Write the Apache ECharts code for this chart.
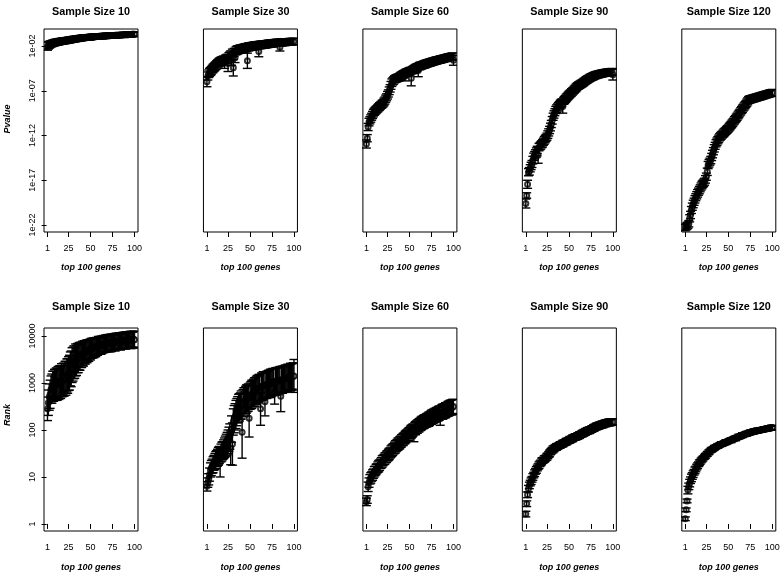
<!DOCTYPE html>
<html>
<head>
<meta charset="utf-8">
<script src="https://cdn.jsdelivr.net/npm/echarts@6/dist/echarts.min.js"></script>
<style>
html,body{margin:0;padding:0;background:#fff;}
#chart{width:784px;height:577px;}
</style>
</head>
<body>
<div id="chart"></div>
<script>
// ---- categories / labels ----
const sampleSizes = [10, 30, 60, 90, 120];
const xTickValues = [1, 25, 50, 75, 100];
const pTickExp = [-22, -17, -12, -7, -2];
const pTickLabels = ['1e-22', '1e-17', '1e-12', '1e-07', '1e-02'];
const rankTickExp = [0, 1, 2, 3, 4];
const rankTickLabels = ['1', '10', '100', '1000', '10000'];
const geneRank = Array.from({length: 100}, (_, i) => i + 1);

// ---- top row: log10(Pvalue), mean and error half-width (in decades) ----
const pLog_n10 = [-2.02,-1.95,-1.87,-1.81,-1.76,-1.73,-1.69,-1.66,-1.63,-1.6,
-1.59,-1.56,-1.55,-1.52,-1.5,-1.49,-1.47,-1.45,-1.44,-1.42,
-1.41,-1.39,-1.38,-1.36,-1.35,-1.33,-1.31,-1.3,-1.27,-1.25,
-1.24,-1.23,-1.21,-1.19,-1.18,-1.16,-1.15,-1.13,-1.12,-1.1,
-1.09,-1.08,-1.07,-1.06,-1.05,-1.04,-1.03,-1.02,-1.01,-1.0,
-0.99,-0.98,-0.98,-0.97,-0.96,-0.95,-0.94,-0.94,-0.93,-0.92,
-0.91,-0.91,-0.9,-0.89,-0.89,-0.88,-0.87,-0.87,-0.86,-0.86,
-0.85,-0.85,-0.84,-0.84,-0.83,-0.82,-0.82,-0.81,-0.8,-0.8,
-0.79,-0.79,-0.78,-0.78,-0.77,-0.76,-0.76,-0.75,-0.75,-0.74,
-0.74,-0.73,-0.73,-0.72,-0.71,-0.71,-0.7,-0.7,-0.69,-0.68];
const pErr_n10 = [0.45,0.4,0.38,0.36,0.35,0.34,0.35,0.33,0.34,0.35,
0.33,0.34,0.35,0.33,0.34,0.32,0.33,0.34,0.32,0.33,
0.32,0.33,0.31,0.32,0.33,0.31,0.32,0.3,0.31,0.32,
0.3,0.31,0.3,0.29,0.31,0.3,0.29,0.3,0.31,0.29,
0.3,0.29,0.28,0.3,0.29,0.28,0.29,0.3,0.28,0.29,
0.28,0.29,0.27,0.28,0.29,0.27,0.28,0.27,0.28,0.27,
0.28,0.27,0.26,0.28,0.27,0.26,0.27,0.28,0.26,0.27,
0.26,0.27,0.26,0.25,0.27,0.26,0.25,0.26,0.27,0.25,
0.26,0.25,0.26,0.25,0.24,0.26,0.25,0.24,0.25,0.26,
0.25,0.24,0.25,0.24,0.25,0.24,0.23,0.25,0.24,0.25];

const pLog_n30 = [-6.0,-5.35,-5.1,-4.95,-4.85,-4.75,-4.6,-4.5,-4.4,-4.3,
-4.2,-4.1,-4.0,-3.9,-3.82,-3.75,-3.7,-3.65,-3.6,-3.57,
-3.9,-3.48,-3.45,-3.38,-3.95,-3.2,-3.1,-3.0,-3.55,-2.8,
-4.42,-2.7,-3.3,-2.55,-2.47,-2.43,-2.4,-2.37,-2.35,-2.33,
-2.3,-2.28,-2.25,-2.22,-2.19,-2.16,-3.65,-2.11,-2.09,-2.07,
-2.05,-2.04,-2.02,-2.0,-1.98,-1.96,-1.95,-1.93,-1.92,-2.6,
-1.89,-1.88,-1.87,-1.86,-1.84,-1.82,-1.81,-1.8,-1.79,-1.77,
-1.76,-1.75,-1.73,-1.72,-1.7,-1.69,-1.68,-1.67,-1.66,-1.65,
-1.64,-1.63,-1.62,-2.13,-1.61,-1.6,-1.59,-1.58,-1.57,-1.57,
-1.56,-1.55,-1.55,-1.54,-1.53,-1.53,-1.52,-1.51,-1.51,-1.5];
const pErr_n30 = [0.55,0.45,0.42,0.46,0.44,0.45,0.43,0.46,0.44,0.45,
0.44,0.46,0.45,0.43,0.45,0.44,0.46,0.45,0.43,0.45,
0.6,0.45,0.44,0.46,0.9,0.45,0.44,0.46,0.6,0.45,
0.93,0.44,0.55,0.45,0.44,0.46,0.43,0.45,0.44,0.45,
0.44,0.45,0.43,0.44,0.45,0.43,0.85,0.44,0.43,0.42,
0.42,0.43,0.41,0.42,0.41,0.42,0.4,0.41,0.42,0.6,
0.41,0.4,0.41,0.4,0.39,0.41,0.4,0.39,0.4,0.39,
0.4,0.39,0.38,0.4,0.39,0.38,0.39,0.38,0.39,0.38,
0.38,0.37,0.38,0.43,0.37,0.38,0.37,0.36,0.37,0.38,
0.37,0.36,0.37,0.36,0.37,0.36,0.35,0.36,0.35,0.36];

const pLog_n60 = [-12.95,-12.3,-11.05,-10.5,-10.3,-10.1,-9.9,-9.7,-9.5,-9.35,
-9.25,-9.15,-9.05,-8.95,-8.85,-8.75,-8.66,-8.57,-8.48,-8.4,
-8.25,-8.1,-7.9,-7.73,-7.5,-7.3,-7.0,-6.73,-6.4,-6.1,
-5.95,-5.85,-5.72,-5.67,-5.62,-5.58,-5.54,-5.5,-5.44,-5.37,
-5.3,-5.24,-5.17,-5.11,-5.3,-5.0,-4.96,-4.92,-4.88,-4.84,
-4.8,-5.6,-4.72,-4.66,-4.6,-4.54,-4.48,-4.42,-4.36,-4.75,
-4.26,-4.23,-4.19,-4.16,-4.12,-4.09,-4.06,-4.02,-3.98,-3.94,
-3.91,-3.88,-3.85,-3.82,-3.79,-3.76,-3.73,-3.7,-3.67,-3.64,
-3.61,-3.59,-3.56,-3.54,-3.51,-3.49,-3.46,-3.44,-3.41,-3.38,
-3.36,-3.33,-3.31,-3.28,-3.25,-3.23,-3.2,-3.18,-3.15,-3.6];
const pErr_n60 = [0.45,0.4,0.4,0.42,0.4,0.41,0.39,0.4,0.42,0.4,
0.41,0.4,0.39,0.41,0.4,0.42,0.4,0.39,0.41,0.4,
0.42,0.4,0.41,0.39,0.42,0.4,0.43,0.41,0.44,0.42,
0.4,0.41,0.39,0.4,0.41,0.4,0.39,0.41,0.4,0.42,
0.4,0.41,0.39,0.4,0.6,0.41,0.4,0.39,0.41,0.4,
0.42,0.85,0.4,0.39,0.41,0.4,0.42,0.39,0.4,0.68,
0.4,0.41,0.39,0.4,0.38,0.4,0.39,0.41,0.38,0.4,
0.39,0.38,0.4,0.39,0.38,0.4,0.37,0.39,0.38,0.4,
0.38,0.39,0.37,0.38,0.4,0.38,0.37,0.39,0.38,0.37,
0.38,0.37,0.39,0.38,0.37,0.38,0.36,0.38,0.37,0.55];

const pLog_n90 = [-19.6,-18.7,-17.45,-16.1,-16.0,-15.66,-15.4,-15.18,-14.75,-14.37,
-14.2,-13.99,-13.8,-13.6,-14.2,-13.3,-13.2,-13.1,-12.97,-12.87,
-12.7,-12.55,-12.4,-12.27,-12.13,-11.9,-11.65,-11.38,-11.05,-10.71,
-10.3,-9.9,-9.65,-9.4,-9.15,-9.0,-8.87,-8.74,-8.61,-8.48,
-8.39,-8.3,-8.75,-8.12,-8.03,-7.92,-7.8,-7.69,-7.58,-7.47,
-7.37,-7.28,-7.18,-7.09,-6.99,-6.89,-6.78,-6.68,-6.57,-6.47,
-6.41,-6.35,-6.29,-6.23,-6.17,-6.1,-6.02,-5.95,-5.87,-5.8,
-5.74,-5.68,-5.62,-5.56,-5.5,-5.45,-5.41,-5.36,-5.32,-5.27,
-5.24,-5.21,-5.19,-5.16,-5.13,-5.11,-5.09,-5.06,-5.04,-5.02,
-5.0,-4.99,-4.97,-4.96,-4.94,-4.93,-4.91,-4.9,-4.88,-5.2];
const pErr_n90 = [0.5,0.3,0.45,0.4,0.42,0.4,0.41,0.39,0.42,0.4,
0.41,0.4,0.42,0.4,0.9,0.41,0.4,0.42,0.39,0.41,
0.4,0.42,0.41,0.39,0.4,0.42,0.4,0.41,0.43,0.4,
0.42,0.4,0.41,0.39,0.4,0.42,0.4,0.41,0.39,0.4,
0.41,0.4,0.75,0.39,0.41,0.4,0.42,0.39,0.4,0.41,
0.4,0.39,0.41,0.4,0.38,0.4,0.39,0.41,0.4,0.38,
0.4,0.39,0.38,0.4,0.39,0.38,0.4,0.37,0.39,0.38,
0.39,0.38,0.37,0.39,0.38,0.37,0.38,0.39,0.37,0.38,
0.38,0.37,0.38,0.36,0.38,0.37,0.38,0.36,0.37,0.38,
0.37,0.36,0.38,0.37,0.36,0.37,0.38,0.36,0.37,0.6];

const pLog_n120 = [-22.3,-22.2,-22.1,-22.0,-21.85,-21.25,-20.88,-20.32,-19.95,-19.65,
-19.4,-19.13,-18.9,-18.68,-18.46,-18.28,-18.1,-17.9,-17.7,-17.53,
-17.4,-17.28,-17.16,-16.9,-16.6,-16.05,-15.3,-15.1,-14.92,-14.74,
-14.4,-14.07,-13.75,-13.43,-13.15,-12.87,-12.7,-12.53,-12.37,-12.2,
-12.1,-12.0,-11.9,-11.79,-11.69,-11.59,-11.49,-11.39,-11.3,-11.2,
-11.07,-10.95,-10.82,-10.7,-10.57,-10.44,-10.3,-10.17,-10.03,-9.9,
-9.75,-9.6,-9.45,-9.3,-9.15,-9.02,-8.88,-8.75,-8.61,-8.48,
-8.33,-8.18,-8.03,-7.99,-7.96,-7.93,-7.9,-7.87,-7.84,-7.81,
-7.78,-7.75,-7.72,-7.69,-7.66,-7.63,-7.6,-7.57,-7.54,-7.51,
-7.48,-7.45,-7.42,-7.39,-7.36,-7.33,-7.3,-7.27,-7.25,-7.22];
const pErr_n120 = [0.35,0.34,0.36,0.35,0.36,0.4,0.41,0.39,0.4,0.42,
0.4,0.41,0.39,0.4,0.42,0.4,0.41,0.39,0.4,0.42,
0.4,0.41,0.39,0.42,0.4,0.41,0.4,0.42,0.39,0.41,
0.4,0.42,0.4,0.41,0.39,0.4,0.42,0.4,0.41,0.39,
0.4,0.41,0.39,0.4,0.42,0.4,0.39,0.41,0.4,0.39,
0.41,0.4,0.39,0.41,0.4,0.38,0.4,0.39,0.41,0.4,
0.39,0.4,0.38,0.4,0.39,0.41,0.38,0.4,0.39,0.38,
0.4,0.39,0.38,0.4,0.37,0.39,0.38,0.4,0.37,0.39,
0.38,0.37,0.39,0.38,0.37,0.38,0.39,0.37,0.38,0.37,
0.38,0.37,0.36,0.38,0.37,0.36,0.38,0.37,0.36,0.37];

// ---- bottom row: log10(Rank), mean and error half-width (in decades) ----
const rankLog_n10 = [2.45,2.58,2.7,2.76,2.86,2.88,2.95,2.93,2.98,2.96,
3.0,2.97,3.02,3.0,3.04,3.01,3.06,3.04,3.08,3.07,
3.12,3.1,3.16,3.15,3.2,3.22,3.3,3.3,3.38,3.4,
3.44,3.43,3.49,3.48,3.53,3.52,3.57,3.55,3.6,3.59,
3.63,3.61,3.66,3.65,3.68,3.67,3.7,3.69,3.72,3.71,
3.74,3.73,3.75,3.74,3.77,3.76,3.78,3.77,3.8,3.79,
3.81,3.8,3.82,3.81,3.83,3.82,3.84,3.83,3.85,3.84,
3.86,3.84,3.87,3.85,3.87,3.86,3.88,3.86,3.89,3.87,
3.89,3.88,3.9,3.88,3.9,3.89,3.91,3.89,3.91,3.9,
3.92,3.9,3.92,3.91,3.93,3.91,3.93,3.92,3.93,3.92];
const rankErr_n10 = [0.25,0.27,0.28,0.3,0.29,0.31,0.3,0.32,0.31,0.33,
0.32,0.34,0.33,0.35,0.33,0.34,0.35,0.33,0.34,0.35,
0.34,0.36,0.35,0.37,0.36,0.37,0.36,0.38,0.37,0.36,
0.35,0.33,0.34,0.32,0.31,0.3,0.29,0.28,0.27,0.26,
0.26,0.25,0.24,0.25,0.23,0.24,0.22,0.23,0.21,0.22,
0.21,0.2,0.21,0.2,0.19,0.2,0.19,0.18,0.19,0.18,
0.18,0.19,0.18,0.17,0.18,0.17,0.18,0.17,0.18,0.17,
0.17,0.18,0.17,0.18,0.17,0.16,0.17,0.18,0.17,0.16,
0.17,0.16,0.17,0.18,0.17,0.16,0.17,0.16,0.17,0.18,
0.17,0.16,0.17,0.16,0.17,0.18,0.17,0.16,0.17,0.18];

const rankLog_n30 = [0.8,0.88,0.95,1.05,1.15,1.19,1.23,1.26,1.3,1.33,
1.36,1.39,1.41,1.44,1.47,1.3,1.51,1.54,1.56,1.59,
1.62,1.65,1.68,1.71,1.75,1.8,1.86,1.62,2.02,1.7,
2.17,2.23,2.28,2.33,2.38,2.43,2.46,2.48,2.51,2.53,
1.95,2.57,2.6,2.62,2.64,2.66,2.67,2.69,2.25,2.72,
2.74,2.76,2.77,2.79,2.81,2.83,2.84,2.86,2.87,2.89,
2.9,2.45,2.92,2.93,2.94,2.95,2.6,2.96,2.96,2.97,
2.98,2.98,2.99,3.0,3.01,3.02,3.02,2.8,3.03,3.04,
3.04,3.05,3.05,3.06,2.72,3.07,3.07,3.08,3.08,3.09,
3.1,3.1,3.11,3.11,3.12,3.13,3.13,3.14,3.14,3.15];
const rankErr_n30 = [0.1,0.1,0.12,0.14,0.15,0.16,0.15,0.17,0.16,0.17,
0.18,0.17,0.18,0.19,0.18,0.3,0.19,0.2,0.19,0.2,
0.21,0.22,0.23,0.24,0.25,0.26,0.27,0.36,0.28,0.45,
0.28,0.29,0.28,0.3,0.29,0.28,0.3,0.29,0.28,0.3,
0.55,0.29,0.3,0.28,0.29,0.3,0.28,0.29,0.4,0.28,
0.29,0.3,0.28,0.29,0.3,0.28,0.29,0.3,0.28,0.29,
0.28,0.35,0.29,0.28,0.3,0.29,0.3,0.28,0.29,0.28,
0.29,0.28,0.3,0.29,0.28,0.29,0.28,0.25,0.29,0.28,
0.29,0.28,0.27,0.29,0.33,0.28,0.29,0.27,0.28,0.29,
0.28,0.27,0.29,0.28,0.27,0.29,0.28,0.27,0.29,0.35];

const rankLog_n60 = [0.47,0.52,0.79,0.88,0.95,0.98,1.01,1.04,1.07,1.11,
1.13,1.16,1.18,1.21,1.23,1.25,1.28,1.3,1.33,1.35,
1.37,1.39,1.41,1.43,1.45,1.47,1.49,1.51,1.54,1.56,
1.58,1.6,1.62,1.64,1.66,1.68,1.7,1.71,1.73,1.75,
1.77,1.79,1.8,1.82,1.84,1.86,1.88,1.89,1.91,1.93,
1.95,1.96,1.98,2.0,1.9,2.03,2.04,2.06,2.07,2.09,
2.1,2.12,2.13,2.15,2.16,2.17,2.18,2.19,2.2,2.21,
2.22,2.23,2.24,2.26,2.27,2.28,2.29,2.3,2.31,2.32,
2.33,2.34,2.35,2.36,2.25,2.38,2.39,2.39,2.4,2.41,
2.42,2.43,2.44,2.45,2.46,2.47,2.48,2.48,2.49,2.5];
const rankErr_n60 = [0.08,0.08,0.1,0.1,0.1,0.11,0.1,0.11,0.1,0.11,
0.1,0.11,0.1,0.11,0.12,0.11,0.1,0.11,0.12,0.11,
0.11,0.12,0.11,0.12,0.11,0.12,0.12,0.11,0.12,0.12,
0.12,0.11,0.12,0.13,0.12,0.12,0.13,0.12,0.13,0.12,
0.13,0.12,0.13,0.12,0.13,0.13,0.12,0.13,0.13,0.12,
0.13,0.14,0.13,0.13,0.15,0.13,0.14,0.13,0.14,0.13,
0.14,0.13,0.14,0.14,0.13,0.14,0.14,0.13,0.14,0.14,
0.14,0.15,0.14,0.14,0.15,0.14,0.15,0.14,0.15,0.14,
0.15,0.14,0.15,0.15,0.15,0.14,0.15,0.16,0.15,0.15,
0.16,0.15,0.15,0.16,0.15,0.16,0.15,0.16,0.16,0.15];

const rankLog_n90 = [0.21,0.43,0.62,0.75,0.82,0.87,0.91,0.95,1.0,1.04,
1.08,1.12,1.15,1.19,1.22,1.25,1.28,1.3,1.33,1.35,
1.36,1.38,1.39,1.41,1.43,1.45,1.48,1.5,1.53,1.55,
1.57,1.59,1.6,1.62,1.63,1.64,1.65,1.66,1.67,1.68,
1.69,1.7,1.71,1.72,1.73,1.74,1.75,1.76,1.77,1.78,
1.79,1.8,1.81,1.82,1.83,1.84,1.85,1.85,1.86,1.87,
1.88,1.89,1.9,1.91,1.92,1.93,1.94,1.95,1.96,1.97,
1.98,1.99,1.99,2.0,2.01,2.02,2.03,2.04,2.05,2.06,
2.07,2.08,2.08,2.09,2.1,2.11,2.11,2.12,2.12,2.13,
2.14,2.14,2.15,2.15,2.16,2.16,2.16,2.17,2.17,2.17];
const rankErr_n90 = [0.06,0.06,0.06,0.07,0.07,0.06,0.07,0.06,0.07,0.06,
0.07,0.06,0.07,0.06,0.06,0.07,0.06,0.06,0.07,0.06,
0.06,0.07,0.06,0.06,0.07,0.06,0.06,0.07,0.06,0.06,
0.06,0.07,0.06,0.06,0.06,0.07,0.06,0.06,0.06,0.07,
0.06,0.06,0.07,0.06,0.06,0.06,0.07,0.06,0.06,0.06,
0.07,0.06,0.06,0.07,0.06,0.06,0.07,0.06,0.06,0.07,
0.06,0.07,0.06,0.06,0.07,0.06,0.07,0.06,0.07,0.06,
0.07,0.06,0.07,0.07,0.06,0.07,0.06,0.07,0.07,0.06,
0.07,0.07,0.06,0.07,0.07,0.06,0.07,0.07,0.07,0.06,
0.07,0.07,0.07,0.06,0.07,0.07,0.07,0.07,0.06,0.07];

const rankLog_n120 = [0.11,0.3,0.49,0.72,0.8,0.87,0.93,0.98,1.02,1.06,
1.1,1.14,1.17,1.21,1.24,1.27,1.3,1.32,1.35,1.37,
1.39,1.41,1.43,1.45,1.47,1.49,1.51,1.53,1.55,1.57,
1.58,1.59,1.6,1.62,1.63,1.64,1.65,1.66,1.67,1.68,
1.69,1.7,1.7,1.71,1.72,1.73,1.74,1.74,1.75,1.76,
1.77,1.78,1.78,1.79,1.8,1.81,1.82,1.82,1.83,1.84,
1.85,1.86,1.86,1.87,1.88,1.89,1.9,1.9,1.91,1.92,
1.92,1.93,1.93,1.94,1.95,1.95,1.96,1.96,1.97,1.97,
1.98,1.98,1.99,1.99,1.99,2.0,2.0,2.0,2.01,2.01,
2.02,2.02,2.02,2.03,2.03,2.04,2.04,2.04,2.05,2.05];
const rankErr_n120 = [0.04,0.04,0.04,0.08,0.07,0.08,0.07,0.08,0.07,0.07,
0.06,0.07,0.06,0.06,0.06,0.05,0.06,0.05,0.05,0.05,
0.05,0.04,0.05,0.05,0.04,0.05,0.04,0.05,0.04,0.04,
0.05,0.04,0.04,0.05,0.04,0.04,0.04,0.05,0.04,0.04,
0.04,0.05,0.04,0.04,0.04,0.04,0.05,0.04,0.04,0.04,
0.04,0.04,0.05,0.04,0.04,0.04,0.04,0.05,0.04,0.04,
0.04,0.05,0.04,0.04,0.04,0.05,0.04,0.04,0.04,0.04,
0.05,0.04,0.04,0.04,0.05,0.04,0.04,0.04,0.05,0.04,
0.04,0.04,0.05,0.04,0.04,0.04,0.05,0.04,0.04,0.04,
0.05,0.04,0.04,0.04,0.05,0.04,0.04,0.04,0.05,0.04];

// ---- build ----
const FONT = "'Liberation Sans', Arial, Helvetica, sans-serif";
const topMeans = [pLog_n10, pLog_n30, pLog_n60, pLog_n90, pLog_n120];
const topErrs = [pErr_n10, pErr_n30, pErr_n60, pErr_n90, pErr_n120];
const botMeans = [rankLog_n10, rankLog_n30, rankLog_n60, rankLog_n90, rankLog_n120];
const botErrs = [rankErr_n10, rankErr_n30, rankErr_n60, rankErr_n90, rankErr_n120];

const PANEL_W = 94, PANEL_H = 203, COL_STEP = 159.45, LEFT0 = 44;
const ROW_TOP = [29, 328];
const Y_RANGE = [[-22.78, -0.1], [-0.15, 4.17]];

const grids = [], xAxes = [], yAxes = [], series = [], graphics = [];
let idx = 0;
for (let row = 0; row < 2; row++) {
  for (let col = 0; col < 5; col++) {
    const left = LEFT0 + col * COL_STEP;
    const top = ROW_TOP[row];
    const means = row === 0 ? topMeans[col] : botMeans[col];
    const errs = row === 0 ? topErrs[col] : botErrs[col];
    grids.push({left: left, top: top, width: PANEL_W, height: PANEL_H, show: true,
      borderColor: '#000', borderWidth: 1, backgroundColor: 'transparent'});
    xAxes.push({type: 'value', gridIndex: idx, min: -2.96, max: 103.96,
      axisLine: {show: false}, splitLine: {show: false},
      axisTick: {show: true, customValues: xTickValues, length: 5, lineStyle: {color: '#000', width: 1}},
      axisLabel: {show: true, customValues: xTickValues, fontSize: 9, color: '#000', fontFamily: FONT, margin: 12}
    });
    const tickExp = row === 0 ? pTickExp : rankTickExp;
    const tickLab = row === 0 ? pTickLabels : rankTickLabels;
    if (col === 0) {
      yAxes.push({type: 'value', gridIndex: idx, min: Y_RANGE[row][0], max: Y_RANGE[row][1],
        axisLine: {show: false}, splitLine: {show: false},
        axisTick: {show: true, customValues: tickExp, length: 5, lineStyle: {color: '#000', width: 1}},
        axisLabel: {show: true, customValues: tickExp, rotate: 90, fontSize: 9, color: '#000', fontFamily: FONT, margin: 7,
          formatter: v => tickLab[tickExp.indexOf(v)]}
      });
    } else {
      yAxes.push({type: 'value', gridIndex: idx, min: Y_RANGE[row][0], max: Y_RANGE[row][1], show: false,
        splitLine: {show: false}});
    }
    series.push({type: 'scatter', xAxisIndex: idx, yAxisIndex: idx, symbol: 'emptyCircle', symbolSize: 5,
      itemStyle: {color: '#000', borderColor: '#000', borderWidth: 1.3}, silent: true, z: 2, clip: true,
      data: geneRank.map((r, i) => [r, means[i]])});
    series.push({type: 'custom', xAxisIndex: idx, yAxisIndex: idx, silent: true, z: 3, clip: true,
      encode: {x: 0, y: [1, 2]},
      data: geneRank.map((r, i) => [r, means[i] - errs[i], means[i] + errs[i]]),
      renderItem: (params, api) => {
        const x = api.value(0);
        const pLo = api.coord([x, api.value(1)]);
        const pHi = api.coord([x, api.value(2)]);
        const w = 4.5;
        const st = {stroke: '#000', lineWidth: 1.4, fill: null};
        return {type: 'group', children: [
          {type: 'line', shape: {x1: pLo[0], y1: pLo[1], x2: pHi[0], y2: pHi[1]}, style: st},
          {type: 'line', shape: {x1: pLo[0] - w, y1: pLo[1], x2: pLo[0] + w, y2: pLo[1]}, style: st},
          {type: 'line', shape: {x1: pHi[0] - w, y1: pHi[1], x2: pHi[0] + w, y2: pHi[1]}, style: st}
        ]};
      }
    });
    // panel title and x axis title
    graphics.push({type: 'text', x: left + PANEL_W / 2, y: row === 0 ? 12 : 307, silent: true,
      style: {text: 'Sample Size ' + sampleSizes[col], fontSize: 10.8, fontWeight: 'bold', fontFamily: FONT,
        fill: '#000', align: 'center', verticalAlign: 'middle'}});
    graphics.push({type: 'text', x: left + PANEL_W / 2, y: row === 0 ? 268 : 568, silent: true,
      style: {text: 'top 100 genes', fontSize: 9, fontWeight: 'bold', fontStyle: 'italic', fontFamily: FONT,
        fill: '#000', align: 'center', verticalAlign: 'middle'}});
    idx++;
  }
}
graphics.push({type: 'text', x: 8, y: 119, rotation: Math.PI / 2, silent: true,
  style: {text: 'Pvalue', fontSize: 9, fontWeight: 'bold', fontStyle: 'italic', fontFamily: FONT,
    fill: '#000', align: 'center', verticalAlign: 'middle'}});
graphics.push({type: 'text', x: 8, y: 415, rotation: Math.PI / 2, silent: true,
  style: {text: 'Rank', fontSize: 9, fontWeight: 'bold', fontStyle: 'italic', fontFamily: FONT,
    fill: '#000', align: 'center', verticalAlign: 'middle'}});

const chart = echarts.init(document.getElementById('chart'), null, {renderer: 'canvas'});
chart.setOption({
  animation: false,
  backgroundColor: '#fff',
  grid: grids, xAxis: xAxes, yAxis: yAxes, series: series,
  graphic: graphics
});
</script>
</body>
</html>
